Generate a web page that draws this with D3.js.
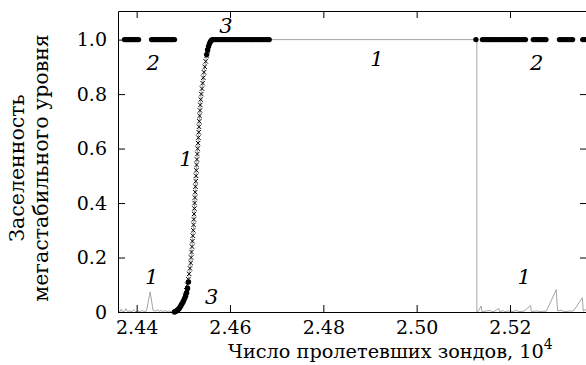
<!DOCTYPE html>
<html>
<head>
<meta charset="utf-8">
<script src="https://cdn.jsdelivr.net/npm/d3@7"></script>
<style>
  body { margin: 0; background: #fff; }
</style>
</head>
<body>
<svg id="chart" width="586" height="365"></svg>
<script>
// ticks
const xTicks = [2.44, 2.46, 2.48, 2.50, 2.52];
const yTicks = [0, 0.2, 0.4, 0.6, 0.8, 1.0];

// curve 1, thin line: left part (small spikes near zero)
const c1LeftX = [2.4360, 2.4364, 2.4367, 2.4369, 2.4374, 2.4377, 2.4380, 2.4386, 2.4390, 2.4393,
  2.4398, 2.4402, 2.4408, 2.4412, 2.4416, 2.4421, 2.4429, 2.4435, 2.4440, 2.4445,
  2.4449, 2.4452, 2.4457, 2.4460, 2.4466, 2.4469, 2.4474, 2.4478, 2.4481, 2.4487,
  2.4493, 2.4499];
const c1LeftY = [0.002, 0.001, 0.010, 0.001, 0.003, 0.012, 0.002, 0.004, 0.001, 0.008,
  0.001, 0.003, 0.002, 0.006, 0.001, 0.004, 0.074, 0.006, 0.003, 0.008,
  0.002, 0.006, 0.001, 0.005, 0.002, 0.004, 0.001, 0.003, 0.002, 0.010,
  0.020, 0.036];

// curve 1, cross markers on the rise
const crossX = [2.45040, 2.45063, 2.45086, 2.45109, 2.45125, 2.45142, 2.45158, 2.45167, 2.45176, 2.45186,
  2.45195, 2.45204, 2.45213, 2.45219, 2.45225, 2.45231, 2.45237, 2.45242, 2.45248, 2.45254,
  2.45260, 2.45266, 2.45272, 2.45278, 2.45284, 2.45292, 2.45300, 2.45308, 2.45316, 2.45323,
  2.45330, 2.45336, 2.45342, 2.45349, 2.45357, 2.45364, 2.45372, 2.45386, 2.45400, 2.45414,
  2.45428, 2.45442, 2.45459, 2.45479, 2.45498, 2.45518];
const crossY = [0.06, 0.08, 0.10, 0.12, 0.14, 0.16, 0.18, 0.20, 0.22, 0.24,
  0.26, 0.28, 0.30, 0.32, 0.34, 0.36, 0.38, 0.40, 0.42, 0.44,
  0.46, 0.48, 0.50, 0.52, 0.54, 0.56, 0.58, 0.60, 0.62, 0.64,
  0.66, 0.68, 0.70, 0.72, 0.74, 0.76, 0.78, 0.80, 0.82, 0.84,
  0.86, 0.88, 0.90, 0.92, 0.94, 0.96];

// curve 1, thin line: plateau, drop and right spikes
const c1RightX = [2.4556, 2.4561, 2.4689, 2.5129, 2.5129, 2.5132, 2.5138, 2.5140, 2.5150, 2.5158,
  2.5160, 2.5166, 2.5176, 2.5178, 2.5186, 2.5188, 2.5196, 2.5206, 2.5215, 2.5217,
  2.5230, 2.5244, 2.5246, 2.5256, 2.5264, 2.5278, 2.5299, 2.5302, 2.5312, 2.5314,
  2.5326, 2.5336, 2.5355, 2.5357, 2.5365];
const c1RightY = [0.975, 1.0, 1.0, 1.0, 0.0, 0.003, 0.022, 0.001, 0.004, 0.006,
  0.001, 0.002, 0.013, 0.001, 0.005, 0.001, 0.004, 0.002, 0.006, 0.001,
  0.003, 0.024, 0.001, 0.004, 0.002, 0.003, 0.082, 0.004, 0.007, 0.001,
  0.003, 0.004, 0.052, 0.003, 0.012];

// curve 2, filled dots at level 1
const dot2X = [2.4374, 2.4377, 2.4380, 2.4383, 2.4386, 2.4389, 2.4392, 2.4395, 2.4398, 2.4401, 2.4404,
  2.4432, 2.4435, 2.4438, 2.4441, 2.4444, 2.4447, 2.4450, 2.4453, 2.4456, 2.4459,
  2.4462, 2.4465, 2.4468, 2.4471, 2.4474, 2.4477, 2.4481,
  2.5127,
  2.5141, 2.5145, 2.5149, 2.5153, 2.5157, 2.5161, 2.5165, 2.5169, 2.5173, 2.5177,
  2.5181, 2.5185, 2.5189, 2.5193, 2.5197, 2.5201, 2.5205, 2.5209, 2.5213, 2.5217,
  2.5221, 2.5225, 2.5229, 2.5233,
  2.5250, 2.5254, 2.5258, 2.5262, 2.5266, 2.5270, 2.5274, 2.5277,
  2.5306, 2.5310, 2.5314, 2.5318, 2.5322, 2.5326, 2.5330, 2.5334,
  2.5356, 2.5359, 2.5363];
const dot2Level = 1.0;

// curve 3, filled dots
const dot3X = [2.4481, 2.4483, 2.4485, 2.4487, 2.4489, 2.4491, 2.4493, 2.4495, 2.4497, 2.4499,
  2.4501, 2.4503, 2.4505, 2.4507, 2.4509, 2.4511,
  2.4550, 2.4552, 2.4554, 2.4556, 2.4558, 2.4560, 2.4562,
  2.4565, 2.4569, 2.4573, 2.4577, 2.4581, 2.4585, 2.4589, 2.4593, 2.4597, 2.4601,
  2.4605, 2.4609, 2.4613, 2.4617, 2.4621, 2.4625, 2.4629, 2.4633, 2.4637, 2.4641,
  2.4645, 2.4649, 2.4653, 2.4657, 2.4661, 2.4665, 2.4669, 2.4673, 2.4677, 2.4681, 2.4684];
const dot3Y = [0.000, 0.002, 0.004, 0.006, 0.009, 0.013, 0.018, 0.024, 0.030, 0.036,
  0.043, 0.051, 0.060, 0.071, 0.086, 0.110,
  0.945, 0.962, 0.975, 0.985, 0.992, 0.997, 1.0,
  1.0, 1.0, 1.0, 1.0, 1.0, 1.0, 1.0, 1.0, 1.0, 1.0,
  1.0, 1.0, 1.0, 1.0, 1.0, 1.0, 1.0, 1.0, 1.0, 1.0,
  1.0, 1.0, 1.0, 1.0, 1.0, 1.0, 1.0, 1.0, 1.0, 1.0, 1.0];

// curve numbers
const notes = [
  {t: '2', x: 2.44356, y: 0.888}, {t: '2', x: 2.52574, y: 0.888},
  {t: '3', x: 2.45914, y: 1.024}, {t: '3', x: 2.45608, y: 0.029},
  {t: '1', x: 2.45057, y: 0.536}, {t: '1', x: 2.49151, y: 0.903},
  {t: '1', x: 2.44322, y: 0.103}, {t: '1', x: 2.52302, y: 0.103}
];

const FONT = "'DejaVu Serif', serif";

const svg = d3.select('#chart');
const margin = {left: 118, right: 587, top: 11, bottom: 312};

const x = d3.scaleLinear().domain([2.436, 2.5365]).range([margin.left, margin.right]);
const y = d3.scaleLinear().domain([0, 1.105]).range([margin.bottom, margin.top]);

// thin line of curve 1
const line1 = c1LeftX.map((v, i) => [v, c1LeftY[i]])
  .concat(crossX.map((v, i) => [v, crossY[i]]))
  .concat(c1RightX.map((v, i) => [v, c1RightY[i]]));

svg.append('path')
  .datum(line1)
  .attr('fill', 'none')
  .attr('stroke', '#9a9a9a')
  .attr('stroke-width', 0.9)
  .attr('d', d3.line().x(d => x(d[0])).y(d => y(d[1])));

// crosses
svg.selectAll('.cross')
  .data(crossX)
  .enter().append('path')
  .attr('class', 'cross')
  .attr('transform', (d, i) => 'translate(' + x(d) + ',' + y(crossY[i]) + ')')
  .attr('d', 'M-2.2,-2.2L2.2,2.2M-2.2,2.2L2.2,-2.2')
  .attr('stroke', '#000')
  .attr('stroke-width', 1);

// dots of curve 2
svg.selectAll('.dot2')
  .data(dot2X)
  .enter().append('circle')
  .attr('class', 'dot2')
  .attr('cx', d => x(d))
  .attr('cy', y(dot2Level))
  .attr('r', 2.7)
  .attr('fill', '#000');

// dots of curve 3
svg.selectAll('.dot3')
  .data(dot3X)
  .enter().append('circle')
  .attr('class', 'dot3')
  .attr('cx', d => x(d))
  .attr('cy', (d, i) => y(dot3Y[i]))
  .attr('r', 2.7)
  .attr('fill', '#000');

// AXES
function styleAxis(g) {
  g.selectAll('path, line').attr('stroke', '#000');
  g.selectAll('text')
    .style('font-family', FONT)
    .style('font-size', '19px')
    .attr('fill', '#000');
}

svg.append('g')
  .attr('transform', 'translate(0,' + margin.bottom + ')')
  .call(d3.axisBottom(x).tickValues(xTicks).tickSize(-7).tickSizeOuter(0)
    .tickPadding(9).tickFormat(d3.format('.2f')))
  .call(styleAxis);

svg.append('g')
  .attr('transform', 'translate(0,' + margin.top + ')')
  .call(d3.axisTop(x).tickValues(xTicks).tickSize(-7).tickSizeOuter(0).tickFormat(''))
  .call(styleAxis);

svg.append('g')
  .attr('transform', 'translate(' + margin.left + ',0)')
  .call(d3.axisLeft(y).tickValues(yTicks).tickSize(-7).tickSizeOuter(0)
    .tickPadding(11).tickFormat(d => d === 0 ? '0' : d.toFixed(1)))
  .call(styleAxis);

svg.append('g')
  .attr('transform', 'translate(' + margin.right + ',0)')
  .call(d3.axisRight(y).tickValues(yTicks).tickSize(-7).tickSizeOuter(0).tickFormat(''))
  .call(styleAxis);

// curve numbers
svg.selectAll('.note')
  .data(notes)
  .enter().append('text')
  .attr('class', 'note')
  .attr('x', d => x(d.x))
  .attr('y', d => y(d.y))
  .attr('text-anchor', 'middle')
  .style('font-family', FONT)
  .style('font-size', '21px')
  .style('font-style', 'italic')
  .text(d => d.t);

// axis titles
const xt = svg.append('text')
  .attr('x', 228)
  .attr('y', 358)
  .style('font-family', FONT)
  .style('font-size', '19.3px');
xt.append('tspan').text('Число пролетевших зондов, 10');
xt.append('tspan').attr('dy', -9).style('font-size', '14px').text('4');

svg.append('text')
  .attr('transform', 'translate(24,168) rotate(-90)')
  .attr('text-anchor', 'middle')
  .style('font-family', FONT)
  .style('font-size', '20.5px')
  .text('Заселенность');
svg.append('text')
  .attr('transform', 'translate(48,168) rotate(-90)')
  .attr('text-anchor', 'middle')
  .style('font-family', FONT)
  .style('font-size', '20.5px')
  .text('мегастабильного уровня');
</script>
</body>
</html>
